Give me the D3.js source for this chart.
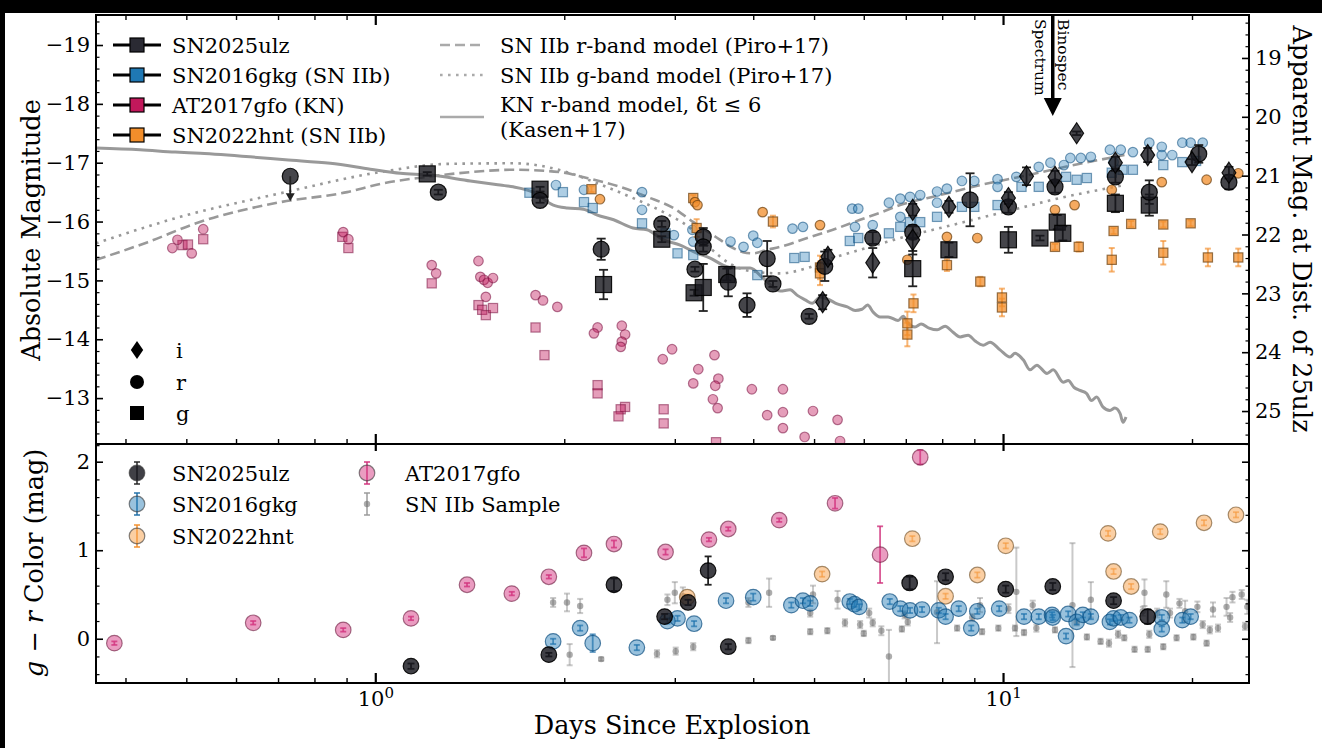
<!DOCTYPE html>
<html>
<head>
<meta charset="utf-8">
<script src="https://cdn.jsdelivr.net/npm/d3@7"></script>
<style>
body { margin: 0; background: #000; }
svg { display: block; font-family: "DejaVu Serif", serif; }
</style>
</head>
<body>
<svg width="1322" height="748"></svg>
<script>
// Light curves, [days, abs mag, err]
var ulzR = [[1.26,-16.50,0.04],[1.83,-16.36,0.04],[2.29,-15.53,0.18],[2.86,-15.96,0.05],[3.33,-15.74,0.15],
    [3.33,-15.57,0.08],[3.23,-15.19,0.04],[3.65,-14.97,0.24],[3.91,-14.58,0.2],[4.21,-15.37,0.3],
    [4.30,-14.94,0.05],[4.91,-14.39,0.04],[5.20,-15.24,0.25],[6.20,-15.72,0.10],[7.18,-15.82,0.10],
    [8.86,-16.37,0.45],[10.2,-16.25,0.10],[12.1,-16.59,0.10],[15.1,-16.76,0.10],[17.1,-16.50,0.20],
    [20.5,-17.15,0.15],[22.9,-16.67,0.12]];
var ulzG = [[1.21,-16.81,0.03],[1.83,-16.55,0.04],[2.31,-14.93,0.25],[2.86,-15.70,0.05],[3.22,-14.79,0.05],
    [3.33,-14.88,0.40],[3.63,-15.10,0.10],[7.18,-15.20,0.30],[8.20,-15.52,0.12],[10.2,-15.69,0.22],
    [11.45,-15.72,0.04],[12.2,-15.99,0.12],[12.45,-15.80,0.12],[15.1,-16.31,0.15],[17.1,-16.28,0.18]];
var ulzI = [[5.16,-14.63,0.12],[5.26,-15.40,0.12],[6.20,-15.30,0.25],[7.18,-16.20,0.10],[7.18,-15.69,0.25],
    [8.20,-16.25,0.10],[10.2,-16.40,0.10],[10.9,-16.77,0.15],[12.1,-16.76,0.10],[13.1,-17.50,0.03],
    [15.1,-17.00,0.10],[17.0,-17.13,0.12],[20.0,-17.01,0.05],[22.9,-16.83,0.10]];
var ulzLimit = [[0.732,-16.77]];

var gkgR = [[1.94,-16.62],[2.15,-16.54],[2.66,-16.50],[2.66,-16.20],[2.99,-15.77],[3.20,-15.86],[3.21,-15.66],
    [3.68,-15.66],[3.86,-15.57],[4.00,-15.76],[4.06,-15.64],[4.62,-15.88],[4.80,-15.91],[5.75,-16.22],
    [5.88,-16.22],[5.81,-15.91],[6.20,-15.94],[6.58,-16.32],[6.86,-16.39],[6.86,-16.08],[7.11,-16.42],
    [7.38,-16.45],[7.85,-16.51],[8.14,-16.56],[7.85,-16.32],[8.60,-16.69],[9.00,-16.69],[9.80,-16.72],
    [9.80,-16.59],[10.5,-16.76],[11.4,-16.93],[11.9,-17.00],[12.5,-16.96],[12.8,-17.08],[13.3,-17.08],
    [13.8,-17.10],[14.8,-17.22],[15.4,-17.22],[16.1,-17.18],[15.0,-17.01],[17.1,-17.34],[17.9,-17.27],
    [17.9,-17.13],[18.6,-17.13],[19.3,-17.34],[19.9,-17.34],[20.8,-17.34]];
var gkgG = [[1.76,-16.49],[1.99,-16.50],[2.15,-16.33],[2.22,-16.23],[2.66,-15.97],[2.90,-15.80],[3.03,-15.46],
    [3.21,-15.43],[4.06,-15.09],[4.65,-15.38],[4.83,-15.40],[5.70,-15.67],[5.88,-15.72],[6.58,-15.80],
    [6.86,-15.91],[7.11,-15.99],[7.38,-15.99],[7.85,-16.08],[8.60,-16.25],[9.00,-16.25],[9.80,-16.28],
    [10.7,-16.59],[11.4,-16.59],[12.6,-16.76],[13.1,-16.71],[13.6,-16.74],[14.9,-16.83],[15.5,-16.88],
    [16.1,-16.88],[18.0,-16.96],[19.3,-17.01],[20.3,-17.03]];

var gfoR = [[0.475,-15.55],[0.484,-15.69],[0.51,-15.46],[0.532,-15.87],[0.889,-15.82],[0.906,-15.70],
    [1.23,-15.26],[1.25,-15.12],[1.46,-15.33],[1.47,-15.06],[1.49,-15.01],[1.51,-14.96],[1.54,-15.04],
    [1.50,-14.72],[1.80,-14.75],[1.85,-14.66],[1.95,-14.55],[2.26,-14.20],[2.23,-14.10],[2.47,-14.23],
    [2.50,-14.08],[2.47,-13.96],[2.46,-13.87],[2.87,-13.66],[2.97,-13.83],[3.47,-13.73],[3.27,-13.49],
    [3.21,-13.25],[3.52,-13.33],[3.48,-13.21],[3.45,-12.98],[3.51,-12.83],[3.98,-13.15],[4.46,-13.15],
    [4.21,-12.71],[4.46,-12.76],[4.46,-12.49],[4.98,-12.78],[4.83,-12.34],[5.45,-12.63],[5.50,-12.27]];
var gfoG = [[0.493,-15.60],[0.503,-15.61],[0.532,-15.70],[0.886,-15.74],[0.906,-15.55],[1.23,-14.95],
    [1.46,-14.58],[1.48,-14.50],[1.50,-14.41],[1.54,-14.53],[1.80,-14.20],[1.86,-13.73],[2.26,-13.22],
    [2.26,-13.08],[2.50,-12.85],[2.46,-12.81],[2.44,-12.69],[2.88,-12.81],[2.88,-12.57],[3.49,-12.25]];

var hntR = [[2.28,-16.38,0.03],[3.23,-16.33,0.03],[3.26,-16.28,0.03],[4.14,-16.16,0.03],[5.11,-15.94,0.03],
    [7.04,-15.35,0.04],[8.14,-15.74,0.04],[9.10,-15.72,0.04],[12.1,-16.20,0.03],[13.0,-16.28,0.03],
    [14.9,-16.54,0.03],[17.9,-16.67,0.03],[21.1,-16.71,0.03],[23.7,-16.82,0.03]];
var hntG = [[2.21,-16.55,0.05],[3.21,-16.40,0.05],[3.25,-15.89,0.15],[4.30,-16.00,0.10],[5.11,-15.22,0.2],
    [5.11,-15.12,0.2],[7.20,-14.61,0.15],[7.04,-14.27,0.2],[7.04,-14.08,0.2],[8.14,-15.26,0.1],
    [9.20,-14.98,0.08],[9.96,-14.71,0.15],[9.96,-14.54,0.15],[12.1,-15.57,0.05],[13.2,-15.57,0.08],
    [15.0,-15.84,0.05],[16.0,-15.96,0.05],[18.0,-15.95,0.05],[19.9,-15.97,0.05],[14.9,-15.35,0.2],
    [18.0,-15.47,0.2],[21.2,-15.39,0.15],[23.7,-15.39,0.15]];

// Models, [days, abs mag]
var piroR = [[0.359,-15.35],[0.434,-15.65],[0.521,-15.98],[0.706,-16.33],[0.902,-16.50],[1.018,-16.64],
    [1.21,-16.76],[1.417,-16.84],[1.658,-16.88],[1.971,-16.84],[2.173,-16.74],[2.456,-16.59],[2.709,-16.42],
    [2.984,-16.23],[3.212,-15.99],[3.452,-15.77],[3.716,-15.55],[3.852,-15.48],[3.995,-15.46],[4.21,-15.52],
    [4.415,-15.57],[4.876,-15.72],[5.358,-15.86],[5.92,-16.03],[6.37,-16.15],[6.855,-16.28],[7.939,-16.45],
    [9.192,-16.62],[10.64,-16.76],[12.32,-16.91],[14.27,-17.05],[15.61,-17.13]];
var piroG = [[0.359,-15.63],[0.489,-16.08],[0.706,-16.48],[1.018,-16.84],[1.302,-16.98],[1.658,-16.99],
    [2.021,-16.84],[2.258,-16.65],[2.547,-16.42],[2.877,-16.16],[3.174,-15.89],[3.416,-15.55],[3.676,-15.28],
    [3.955,-15.16],[4.415,-15.12],[4.876,-15.21],[5.358,-15.38],[5.92,-15.52],[6.37,-15.62],[6.855,-15.72],
    [7.939,-15.89],[9.192,-16.06],[10.64,-16.23],[12.32,-16.40],[14.27,-16.54],[15.61,-16.62]];
var kasenR = [[0.359,-17.25],[0.422,-17.22],[0.48,-17.18],[0.526,-17.16],[0.632,-17.10],[0.719,-17.05],
    [0.848,-16.99],[0.982,-16.89],[1.096,-16.82],[1.223,-16.79],[1.417,-16.69],[1.581,-16.62],[1.658,-16.59],
    [1.784,-16.50],[1.921,-16.28],[2.021,-16.23],[2.145,-16.21],[2.258,-16.11],[2.397,-16.03],[2.574,-15.89],
    [2.709,-15.86],[2.877,-15.69],[3.06,-15.60],[3.258,-15.46],[3.416,-15.38],[3.58,-15.26],[3.716,-15.21],
    [3.955,-15.21],[4.146,-15.04],[4.415,-14.82],[4.58,-14.84],[4.696,-14.75],[4.84,-14.67],[4.966,-14.61],
    [5.113,-14.72],[5.265,-14.68],[5.442,-14.60],[5.649,-14.55],[5.814,-14.49],[5.96,-14.51],[6.085,-14.58],
    [6.212,-14.46],[6.37,-14.38],[6.561,-14.38],[6.804,-14.32],[6.934,-14.39],[7.06,-14.27],[7.24,-14.21],
    [7.404,-14.26],[7.624,-14.19],[7.853,-14.16],[8.085,-14.22],[8.325,-14.12],[8.543,-14.04],[8.8,-14.07],
    [9.027,-13.97],[9.297,-13.90],[9.535,-13.95],[9.89,-13.82],[10.26,-13.70],[10.45,-13.76],[10.77,-13.65],
    [11.04,-13.48],[11.32,-13.56],[11.75,-13.42],[12.02,-13.48],[12.47,-13.27],[12.7,-13.30],[12.98,-13.18],
    [13.26,-13.13],[13.58,-13.08],[13.83,-12.96],[14.1,-13.02],[14.42,-12.85],[14.8,-12.79],[15.07,-12.83],
    [15.36,-12.74],[15.53,-12.59],[15.7,-12.68]];

// g - r colours, [days, colour, err]
var colUlz = [[1.14,-0.31,0.03],[1.89,-0.18,0.02],[2.40,0.61,0.07],[2.89,0.25,0.03],[3.15,0.41,0.03],
    [3.39,0.77,0.16],[3.65,-0.09,0.03],[7.10,0.63,0.07],[8.10,0.70,0.04],[10.1,0.56,0.04],[12.0,0.59,0.04],
    [15.0,0.43,0.04],[17.0,0.25,0.08]];
var colGkg = [[1.92,-0.03,0.03],[2.12,0.12,0.03],[2.22,-0.05,0.1],[2.61,-0.10,0.03],[2.92,0.20,0.03],
    [3.03,0.23,0.03],[3.22,0.17,0.03],[3.62,0.43,0.03],[4.00,0.47,0.04],[4.60,0.38,0.03],[4.80,0.43,0.03],
    [4.93,0.40,0.03],[5.70,0.42,0.03],[5.80,0.39,0.03],[5.90,0.36,0.03],[6.60,0.42,0.03],[6.86,0.34,0.03],
    [7.11,0.32,0.03],[7.43,0.33,0.03],[7.90,0.32,0.03],[8.10,0.25,0.03],[8.50,0.34,0.03],[8.90,0.12,0.03],
    [9.10,0.31,0.03],[9.86,0.34,0.03],[10.8,0.25,0.03],[11.4,0.25,0.03],[11.97,0.27,0.03],[12.0,0.24,0.03],
    [12.6,0.03,0.03],[12.7,0.28,0.03],[13.1,0.19,0.03],[13.4,0.27,0.03],[13.8,0.25,0.03],[14.8,0.19,0.03],
    [15.0,0.23,0.03],[15.4,0.24,0.03],[15.9,0.21,0.03],[17.9,0.24,0.03],[17.9,0.11,0.03],[19.3,0.21,0.03],
    [19.9,0.25,0.03]];
var colHnt = [[3.14,0.47,0.03],[5.15,0.73,0.03],[7.17,1.13,0.03],[8.10,0.48,0.03],[9.10,0.72,0.03],
    [10.1,1.05,0.03],[14.7,1.19,0.03],[15.0,0.76,0.03],[16.0,0.59,0.03],[17.8,1.21,0.03],[20.9,1.31,0.03],
    [23.5,1.40,0.03]];
var colGfo = [[0.384,-0.05,0.02],[0.639,0.18,0.02],[0.889,0.10,0.02],[1.14,0.23,0.02],[1.40,0.61,0.02],
    [1.65,0.51,0.02],[1.89,0.70,0.02],[2.15,0.97,0.05],[2.40,1.07,0.04],[2.90,0.98,0.03],[3.40,1.12,0.02],
    [3.65,1.24,0.02],[4.40,1.34,0.02],[5.40,1.53,0.06],[6.37,0.95,0.32],[7.38,2.05,0.08]];
var colIIb = [[1.92,0.41,0.05],[2.02,0.41,0.1],[2.12,0.37,0.08],[2.04,-0.18,0.12],[2.29,-0.23,0.02],
    [2.81,-0.17,0.04],[3.01,-0.14,0.04],[3.21,-0.09,0.04],[2.92,0.44,0.06],[3.00,0.52,0.12],[3.09,0.48,0.1],
    [3.93,0.41,0.05],[4.24,0.52,0.16],[3.93,-0.02,0.03],[4.30,0.01,0.02],[4.93,0.08,0.03],[4.98,0.50,0.1],
    [4.93,0.29,0.04],[5.25,0.09,0.03],[5.45,0.44,0.1],[5.60,0.18,0.04],[5.92,0.16,0.04],[6.00,0.06,0.03],
    [6.12,0.29,0.05],[6.20,0.18,0.04],[6.40,0.09,0.05],[6.58,-0.20,0.3],[6.90,0.11,0.03],[6.97,0.27,0.04],
    [7.05,0.19,0.04],[7.85,0.30,0.35],[8.45,0.12,0.03],[8.93,0.24,0.04],[9.19,0.38,0.08],[9.26,0.08,0.03],
    [9.83,0.12,0.03],[10.2,0.34,0.05],[10.45,0.12,0.03],[10.5,0.53,0.5],[10.8,0.07,0.03],[11.15,0.38,0.05],
    [11.3,0.12,0.04],[12.1,0.10,0.03],[12.9,0.38,0.7],[13.1,0.19,0.04],[13.6,0.02,0.03],[13.8,0.44,0.2],
    [14.3,-0.03,0.03],[14.75,-0.05,0.04],[15.25,0.05,0.04],[15.6,0.01,0.03],[16.2,-0.12,0.03],
    [16.8,0.52,0.15],[17.0,-0.12,0.03],[17.1,0.05,0.04],[18.0,-0.09,0.03],[18.2,0.50,0.15],[18.9,0.01,0.03],
    [19.1,0.40,0.05],[19.5,0.31,0.12],[20.1,0.02,0.03],[20.4,0.36,0.06],[21.1,-0.05,0.03],[21.6,0.33,0.08],
    [22.0,0.12,0.04],[22.7,0.36,0.1],[23.2,0.47,0.06],[24.0,0.50,0.05],[24.3,0.14,0.04],[24.5,0.36,0.08],
    [16.7,0.31,0.05],[17.6,0.29,0.05],[18.45,0.29,0.05],[20.8,0.16,0.04],[21.35,0.10,0.04],[23.0,0.24,0.05]];

var xMajor = [1, 10];
var xMinor = [0.4, 0.5, 0.6, 0.7, 0.8, 0.9, 2, 3, 4, 5, 6, 7, 8, 9, 20];
var absTicks = [-19, -18, -17, -16, -15, -14, -13];
var appTicks = [19, 20, 21, 22, 23, 24, 25];
var colTicks = [0, 1, 2];
var distMod = 37.78;

var W = 1322, H = 748;
var L = 96, R = 1249, T = 15, MID = 444, B = 683;

var ULZ = "#16161d", GKG = "#1f78b4", GFO = "#c2185b", HNT = "#f28e2b";

var svg = d3.select("svg");
svg.append("rect").attr("width", W).attr("height", H).attr("fill", "#000");
svg.append("rect").attr("x", 5).attr("y", 13).attr("width", W - 5).attr("height", H - 13).attr("fill", "#fff");

var x = d3.scaleLog().domain([0.359, 24.65]).range([L, R]);
var yT = d3.scaleLinear().domain([-19.51, -12.22]).range([T, MID]);
var yApp = d3.scaleLinear().domain([-19.51 + distMod, -12.22 + distMod]).range([T, MID]);
var yB = d3.scaleLinear().domain([-0.5, 2.2]).range([B, MID]);

var defs = svg.append("defs");
defs.append("clipPath").attr("id", "clipTop").append("rect")
    .attr("x", L).attr("y", T).attr("width", R - L).attr("height", MID - T);
defs.append("clipPath").attr("id", "clipBot").append("rect")
    .attr("x", L).attr("y", MID).attr("width", R - L).attr("height", B - MID);

var gTop = svg.append("g").attr("clip-path", "url(#clipTop)");
var gBot = svg.append("g").attr("clip-path", "url(#clipBot)");

// model curves
var line = d3.line().x(function (d) { return x(d[0]); }).y(function (d) { return yT(d[1]); }).curve(d3.curveMonotoneX);
gTop.append("path").datum(kasenR).attr("d", line).attr("fill", "none")
    .attr("stroke", "#999").attr("stroke-width", 3);
gTop.append("path").datum(piroR).attr("d", line).attr("fill", "none")
    .attr("stroke", "#999").attr("stroke-width", 2.6).attr("stroke-dasharray", "10,5");
gTop.append("path").datum(piroG).attr("d", line).attr("fill", "none")
    .attr("stroke", "#999").attr("stroke-width", 2.6).attr("stroke-dasharray", "2.6,5.4").attr("stroke-linecap", "butt");

var diamondPath = function (h, w) { return "M0," + (-h) + "L" + w + ",0L0," + h + "L" + (-w) + ",0Z"; };

function errorBars(g, data, ys, color, op, cap, width) {
    var eb = g.append("g").attr("stroke", color).attr("stroke-opacity", op).attr("stroke-width", width);
    data.forEach(function (d) {
        var cx = x(d[0]), y0 = ys(d[1] - d[2]), y1 = ys(d[1] + d[2]);
        eb.append("line").attr("x1", cx).attr("x2", cx).attr("y1", y0).attr("y2", y1);
        eb.append("line").attr("x1", cx - cap).attr("x2", cx + cap).attr("y1", y0).attr("y2", y0);
        eb.append("line").attr("x1", cx - cap).attr("x2", cx + cap).attr("y1", y1).attr("y2", y1);
    });
}

function points(g, data, ys, shape, size, fill, fop, stroke, sop) {
    var sel = g.append("g").selectAll("path").data(data).enter();
    var m;
    if (shape === "circle") {
        m = sel.append("circle").attr("cx", function (d) { return x(d[0]); })
            .attr("cy", function (d) { return ys(d[1]); }).attr("r", size);
    } else if (shape === "square") {
        m = sel.append("rect").attr("x", function (d) { return x(d[0]) - size; })
            .attr("y", function (d) { return ys(d[1]) - size; })
            .attr("width", 2 * size).attr("height", 2 * size);
    } else {
        m = sel.append("path").attr("d", diamondPath(size, size * 0.66))
            .attr("transform", function (d) { return "translate(" + x(d[0]) + "," + ys(d[1]) + ")"; });
    }
    m.attr("fill", fill).attr("fill-opacity", fop).attr("stroke", stroke)
        .attr("stroke-opacity", sop).attr("stroke-width", 1.2);
}

// top panel: kilonova, then IIb comparison, then SN2025ulz
points(gTop, gfoG, yT, "square", 4.6, GFO, 0.42, "#7a1040", 0.55);
points(gTop, gfoR, yT, "circle", 4.8, GFO, 0.42, "#7a1040", 0.55);
points(gTop, gkgG, yT, "square", 4.6, GKG, 0.36, "#0d4f80", 0.55);
points(gTop, gkgR, yT, "circle", 4.8, GKG, 0.36, "#0d4f80", 0.55);
errorBars(gTop, hntG, yT, HNT, 0.65, 3, 2);
points(gTop, hntG, yT, "square", 4.6, HNT, 0.75, "#6b4010", 0.7);
points(gTop, hntR, yT, "circle", 4.8, HNT, 0.75, "#6b4010", 0.7);

errorBars(gTop, ulzG.concat(ulzR, ulzI), yT, "#222", 1, 4.5, 1.8);
points(gTop, ulzG, yT, "square", 8, ULZ, 0.8, "#000", 0.9);
points(gTop, ulzR, yT, "circle", 8, ULZ, 0.8, "#000", 0.9);
points(gTop, ulzI, yT, "diamond", 10.5, ULZ, 0.8, "#000", 0.9);
points(gTop, ulzLimit, yT, "circle", 8, ULZ, 0.8, "#000", 0.9);
ulzLimit.forEach(function (d) {
    var cx = x(d[0]), cy = yT(d[1]);
    gTop.append("line").attr("x1", cx).attr("x2", cx).attr("y1", cy).attr("y2", cy + 18)
        .attr("stroke", "#222").attr("stroke-width", 1.8);
    gTop.append("path").attr("d", "M" + (cx - 4.5) + "," + (cy + 17) + "L" + (cx + 4.5) + "," + (cy + 17) + "L" + cx + "," + (cy + 25) + "Z")
        .attr("fill", "#222");
});

// bottom panel colours
errorBars(gBot, colIIb, yB, "#888", 0.45, 3, 2);
points(gBot, colIIb, yB, "circle", 3.2, "#6a6a6a", 0.55, "none", 0);
errorBars(gBot, colGfo, yB, "#d0307a", 0.8, 3, 1.8);
points(gBot, colGfo, yB, "circle", 7.8, "#d63a84", 0.5, "#6a1a3e", 0.6);
errorBars(gBot, colHnt, yB, HNT, 0.6, 3, 1.8);
points(gBot, colHnt, yB, "circle", 7.8, "#f7a048", 0.5, "#6b4a20", 0.6);
errorBars(gBot, colGkg, yB, "#1f6fa8", 0.7, 3, 1.8);
points(gBot, colGkg, yB, "circle", 7.8, GKG, 0.45, "#0d4f80", 0.7);
errorBars(gBot, colUlz, yB, "#222", 1, 3.5, 1.8);
points(gBot, colUlz, yB, "circle", 7.8, ULZ, 0.82, "#000", 0.9);

// Binospec arrow
var bx = x(12.0);
svg.append("line").attr("x1", bx).attr("x2", bx).attr("y1", T).attr("y2", 100)
    .attr("stroke", "#000").attr("stroke-width", 3.5);
svg.append("path").attr("d", "M" + (bx - 9) + ",98L" + (bx + 9) + ",98L" + bx + ",116Z").attr("fill", "#000");
svg.append("text").attr("transform", "translate(" + (bx + 5) + ",19) rotate(90)")
    .attr("font-size", 15.5).text("Binospec");
svg.append("text").attr("transform", "translate(" + (bx - 18) + ",19) rotate(90)")
    .attr("font-size", 15.5).text("Spectrum");

// axes
function styleAxis(g, width, fs) {
    g.select(".domain").remove();
    g.attr("font-family", null).attr("font-size", null);
    g.selectAll(".tick line").attr("stroke", "#000").attr("stroke-width", width);
    g.selectAll(".tick text").attr("font-family", "DejaVu Serif").attr("font-size", fs || 21).attr("fill", "#000");
    return g;
}
function addAxis(axis, tx, ty, width) {
    return styleAxis(svg.append("g").attr("transform", "translate(" + tx + "," + ty + ")").call(axis), width);
}
var none = function () { return ""; };
var minus = function (d) { return d < 0 ? "\u2212" + Math.abs(d) : String(d); };
function minorRange(lo, hi) {
    var out = [];
    for (var i = Math.ceil(lo * 5); i <= Math.floor(hi * 5); i++) if (i % 5 !== 0) out.push(i / 5);
    return out;
}

// x ticks on both panels
[[MID, "bottom"], [T, "top"], [B, "bottom"]].forEach(function (p) {
    var mk = p[1] === "bottom" ? d3.axisBottom : d3.axisTop;
    addAxis(mk(x).tickValues(xMinor).tickSize(-5).tickFormat(none), 0, p[0], 1.4);
    addAxis(mk(x).tickValues(xMajor).tickSize(-10).tickFormat(none), 0, p[0], 2.2);
});
addAxis(d3.axisTop(x).tickValues(xMajor).tickSize(-7).tickFormat(none), 0, MID, 2.2);
var xLab = addAxis(d3.axisBottom(x).tickValues(xMajor).tickSize(0).tickPadding(8).tickFormat(none), 0, B, 0);
xLab.selectAll(".tick text").each(function (d) {
    var t = d3.select(this);
    t.text("10");
    t.append("tspan").attr("dy", "-0.5em").attr("font-size", 15).text(Math.round(Math.log10(d)));
});

// y ticks
addAxis(d3.axisLeft(yT).tickValues(absTicks).tickSize(-7).tickPadding(6).tickFormat(minus), L, 0, 1.6);
addAxis(d3.axisLeft(yT).tickValues(minorRange(-19.5, -12.2)).tickSize(-3.5).tickFormat(none), L, 0, 1.2);
addAxis(d3.axisRight(yApp).tickValues(appTicks).tickSize(-7).tickPadding(6).tickFormat(d3.format("d")), R, 0, 1.6);
addAxis(d3.axisRight(yApp).tickValues(minorRange(18.3, 25.5)).tickSize(-3.5).tickFormat(none), R, 0, 1.2);
addAxis(d3.axisLeft(yB).tickValues(colTicks).tickSize(-7).tickPadding(6).tickFormat(minus), L, 0, 1.6);
addAxis(d3.axisLeft(yB).tickValues(minorRange(-0.5, 2.2)).tickSize(-3.5).tickFormat(none), L, 0, 1.2);
addAxis(d3.axisRight(yB).tickValues(colTicks).tickSize(-7).tickFormat(none), R, 0, 1.6);
addAxis(d3.axisRight(yB).tickValues(minorRange(-0.5, 2.2)).tickSize(-3.5).tickFormat(none), R, 0, 1.2);

// frames
svg.append("rect").attr("x", L).attr("y", T).attr("width", R - L).attr("height", B - T)
    .attr("fill", "none").attr("stroke", "#000").attr("stroke-width", 2);
svg.append("line").attr("x1", L).attr("x2", R).attr("y1", MID).attr("y2", MID)
    .attr("stroke", "#000").attr("stroke-width", 2);

// axis labels
svg.append("text").attr("transform", "translate(40,230) rotate(-90)").attr("text-anchor", "middle")
    .attr("font-size", 25.5).text("Absolute Magnitude");
svg.append("text").attr("transform", "translate(1293,229) rotate(90)").attr("text-anchor", "middle")
    .attr("font-size", 25.5).text("Apparent Mag. at Dist. of 25ulz");
var cl = svg.append("text").attr("transform", "translate(43,563) rotate(-90)").attr("text-anchor", "middle")
    .attr("font-size", 25.5);
cl.append("tspan").attr("font-style", "italic").text("g");
cl.append("tspan").text(" \u2212 ");
cl.append("tspan").attr("font-style", "italic").text("r");
cl.append("tspan").text(" Color (mag)");
svg.append("text").attr("x", 672).attr("y", 734).attr("text-anchor", "middle")
    .attr("font-size", 25.5).text("Days Since Explosion");

// legends
var legA = [["SN2025ulz", "#2a2a33"], ["SN2016gkg (SN IIb)", GKG], ["AT2017gfo (KN)", GFO], ["SN2022hnt (SN IIb)", HNT]];
legA.forEach(function (d, i) {
    var ly = 45 + i * 30;
    svg.append("line").attr("x1", 113).attr("x2", 161).attr("y1", ly).attr("y2", ly)
        .attr("stroke", "#000").attr("stroke-width", 3);
    svg.append("rect").attr("x", 130).attr("y", ly - 7).attr("width", 14).attr("height", 14)
        .attr("fill", d[1]).attr("stroke", "#000").attr("stroke-width", 1.2);
    svg.append("text").attr("x", 172).attr("y", ly).attr("dy", "0.36em").attr("font-size", 21).text(d[0]);
});
var legB = [["SN IIb r-band model (Piro+17)", "10,5", 45, 45], ["SN IIb g-band model (Piro+17)", "2.6,5.4", 75, 75],
    ["KN r-band model, \u03b4t \u2264 6", null, 104, 117]];
legB.forEach(function (d) {
    var l = svg.append("line").attr("x1", 440).attr("x2", 484).attr("y1", d[3]).attr("y2", d[3])
        .attr("stroke", "#aaa").attr("stroke-width", 2.6);
    if (d[1]) l.attr("stroke-dasharray", d[1]);
    svg.append("text").attr("x", 500).attr("y", d[2]).attr("dy", "0.36em").attr("font-size", 21).text(d[0]);
});
svg.append("text").attr("x", 500).attr("y", 129).attr("dy", "0.36em").attr("font-size", 21).text("(Kasen+17)");

var legC = [["i", "diamond", 350], ["r", "circle", 382], ["g", "square", 413]];
legC.forEach(function (d) {
    var g = svg.append("g").attr("transform", "translate(137," + d[2] + ")");
    if (d[1] === "diamond") g.append("path").attr("d", diamondPath(9, 6.2)).attr("fill", "#000");
    else if (d[1] === "circle") g.append("circle").attr("r", 7).attr("fill", "#000");
    else g.append("rect").attr("x", -7).attr("y", -7).attr("width", 14).attr("height", 14).attr("fill", "#000");
    svg.append("text").attr("x", 176).attr("y", d[2]).attr("dy", "0.36em").attr("font-size", 21).text(d[0]);
});

var legD = [["SN2025ulz", ULZ, 0.82, "#222", 137, 473, 7.8], ["SN2016gkg", GKG, 0.45, "#1f6fa8", 137, 504, 7.8],
    ["SN2022hnt", "#f7a048", 0.5, HNT, 137, 536, 7.8], ["AT2017gfo", "#d63a84", 0.5, "#d0307a", 367, 473, 7.8],
    ["SN IIb Sample", "#6a6a6a", 0.55, "#999", 367, 504, 3.2]];
legD.forEach(function (d) {
    var g = svg.append("g").attr("transform", "translate(" + d[4] + "," + d[5] + ")");
    g.append("line").attr("y1", -11).attr("y2", 11).attr("stroke", d[3]).attr("stroke-width", 1.8).attr("stroke-opacity", 0.8);
    g.append("line").attr("x1", -3).attr("x2", 3).attr("y1", -11).attr("y2", -11).attr("stroke", d[3]).attr("stroke-width", 1.8).attr("stroke-opacity", 0.8);
    g.append("line").attr("x1", -3).attr("x2", 3).attr("y1", 11).attr("y2", 11).attr("stroke", d[3]).attr("stroke-width", 1.8).attr("stroke-opacity", 0.8);
    g.append("circle").attr("r", d[6]).attr("fill", d[1]).attr("fill-opacity", d[2])
        .attr("stroke", d[6] > 4 ? "#333" : "none").attr("stroke-opacity", 0.6).attr("stroke-width", 1.2);
    svg.append("text").attr("x", d[4] + (d[4] < 200 ? 35 : 38)).attr("y", d[5]).attr("dy", "0.36em")
        .attr("font-size", 21).text(d[0]);
});
</script>
</body>
</html>
